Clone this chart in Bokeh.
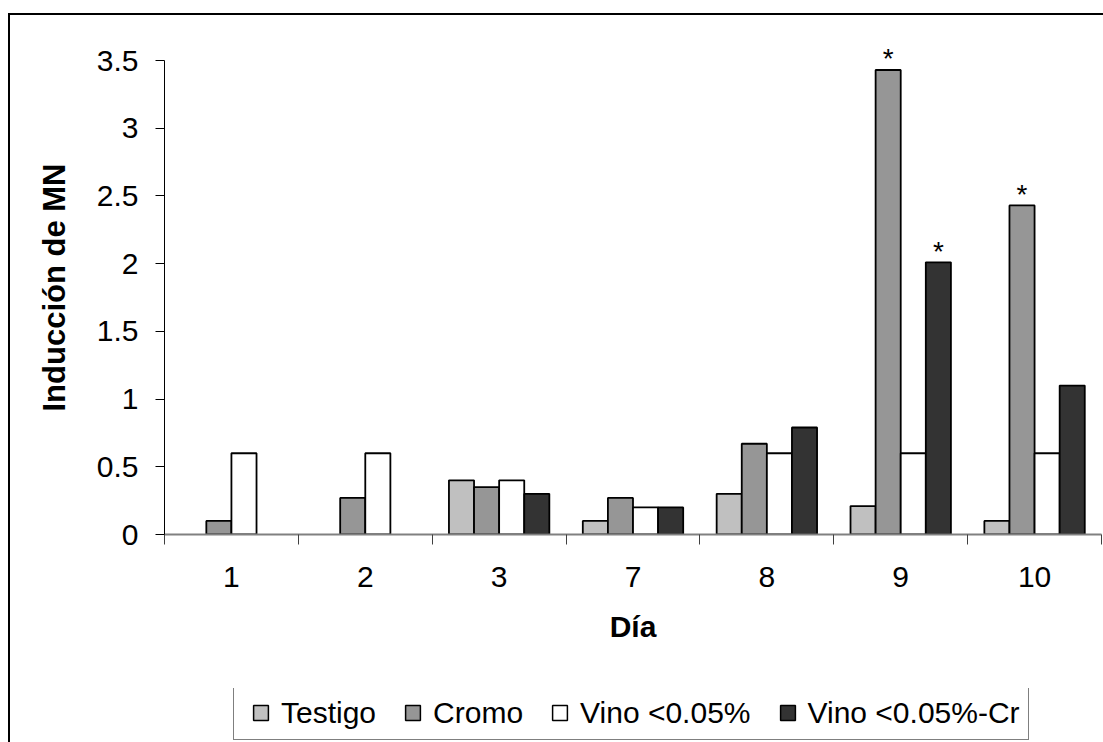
from bokeh.plotting import figure
from bokeh.layouts import column
from bokeh.models import (Range1d, FixedTicker, NumeralTickFormatter, Legend, LegendItem,
                          ColumnDataSource)
from bokeh.embed import file_html
from bokeh.resources import INLINE

# ---- data ----
categories = ["1", "2", "3", "7", "8", "9", "10"]
series_names = ["Testigo", "Cromo", "Vino <0.05%", "Vino <0.05%-Cr"]
testigo = [None, None, 0.40, 0.10, 0.30, 0.21, 0.10]
cromo = [0.10, 0.27, 0.35, 0.27, 0.67, 3.43, 2.43]
vino = [0.60, 0.60, 0.40, 0.20, 0.60, 0.60, 0.60]
vino_cr = [None, None, 0.30, 0.20, 0.79, 2.01, 1.10]
sig_cromo = ["", "", "", "", "", "*", "*"]
sig_vino_cr = ["", "", "", "", "", "*", ""]
y_ticks = [0, 0.5, 1, 1.5, 2, 2.5, 3, 3.5]
y_max = 3.5

colors = ["#C0C0C0", "#969696", "#FFFFFF", "#333333"]
FONT = "Liberation Sans"

BORDER_TOP_LEFT = {
    "background-color": "white",
    "background-image": "linear-gradient(#000, #000), linear-gradient(#000, #000)",
    "background-size": "2px 100%, 100% 2px",
    "background-position": "8px 13px, 8px 13px",
    "background-repeat": "no-repeat",
}
BORDER_LEFT = {
    "background-color": "white",
    "background-image": "linear-gradient(#000, #000)",
    "background-size": "2px 100%",
    "background-position": "8px 0px",
    "background-repeat": "no-repeat",
}

# ---- main chart ----
# frame spans 40..534 px; the 0..3.5 axis occupies 60..534, headroom above keeps the stars visible
px_per_unit = 474 / y_max
p = figure(width=1103, height=688, x_range=Range1d(0, len(categories)),
           y_range=Range1d(0, y_max + 20 / px_per_unit),
           output_backend="svg", toolbar_location=None,
           min_border_left=164, min_border_right=2, min_border_top=40, min_border_bottom=154)
p.outline_line_color = None
p.xgrid.visible = False
p.ygrid.visible = False
p.background_fill_color = "white"
p.border_fill_color = None
p.styles = BORDER_TOP_LEFT

bw = 0.1875
offsets = [-1.5 * bw, -0.5 * bw, 0.5 * bw, 1.5 * bw]
all_series = [testigo, cromo, vino, vino_cr]
for vals, off, col in zip(all_series, offsets, colors):
    xs = [i + 0.5 + off for i in range(len(categories))]
    tops = [float("nan") if v is None else v for v in vals]
    src = ColumnDataSource(dict(x=xs, top=tops))
    p.vbar(x="x", top="top", bottom=0, width=bw, source=src, fill_color=col,
           line_color="black", line_width=1.8)

# significance stars
for vals, sig, off in [(cromo, sig_cromo, offsets[1]), (vino_cr, sig_vino_cr, offsets[3])]:
    xs, ys, ts = [], [], []
    for i, (v, s) in enumerate(zip(vals, sig)):
        if s:
            xs.append(i + 0.5 + off)
            ys.append(v)
            ts.append(s)
    p.text(x=xs, y=ys, text=ts, text_align="center", text_baseline="alphabetic",
           y_offset=-11, text_font_size="28px", text_font={"value": FONT}, text_color="black")

# y axis
yax = p.yaxis[0]
yax.ticker = FixedTicker(ticks=y_ticks)
yax.bounds = (0, y_max)
yax.formatter = NumeralTickFormatter(format="0.[0]")
yax.major_tick_out = 9
yax.major_tick_in = 0
yax.minor_tick_line_color = None
yax.axis_line_color = "black"
yax.axis_line_width = 1
yax.major_tick_line_color = "black"
yax.major_label_text_font = FONT
yax.major_label_text_font_size = "30px"
yax.major_label_text_color = "black"
yax.major_label_standoff = 17
yax.axis_label = "Inducción de MN"
yax.axis_label_text_font = FONT
yax.axis_label_text_font_size = "31px"
yax.axis_label_text_font_style = "bold"
yax.axis_label_text_color = "black"
yax.axis_label_standoff = 22

# x axis
xax = p.xaxis[0]
xax.ticker = FixedTicker(ticks=[i + 0.5 for i in range(len(categories))],
                         minor_ticks=list(range(len(categories) + 1)))
xax.major_label_overrides = {i + 0.5: c for i, c in enumerate(categories)}
xax.major_tick_line_color = None
xax.minor_tick_out = 10
xax.minor_tick_in = 0
xax.minor_tick_line_color = "#404040"
xax.axis_line_color = "#808080"
xax.axis_line_width = 2
xax.major_label_text_font = FONT
xax.major_label_text_font_size = "30px"
xax.major_label_text_color = "black"
xax.major_label_standoff = 22
xax.axis_label = "Día"
xax.axis_label_text_font = FONT
xax.axis_label_text_font_size = "30px"
xax.axis_label_text_font_style = "bold"
xax.axis_label_text_color = "black"
xax.axis_label_standoff = 20

# ---- legend strip ----
q = figure(width=1103, height=54, x_range=Range1d(0, 1), y_range=Range1d(0, 1),
           output_backend="svg", toolbar_location=None,
           x_axis_location=None, y_axis_location=None,
           min_border_left=164, min_border_right=2, min_border_top=0, min_border_bottom=0)
q.outline_line_color = None
q.xgrid.visible = False
q.ygrid.visible = False
q.background_fill_color = None
q.border_fill_color = None
q.styles = BORDER_LEFT

# legend swatches only (no data points drawn in the strip)
nan = float("nan")
legend_renderers = [q.scatter(x=[nan], y=[nan], marker="square", size=15, fill_color=c,
                              line_color="black", line_width=1.5) for c in colors]
legend = Legend(items=[LegendItem(label=n, renderers=[r]) for n, r in zip(series_names, legend_renderers)],
                orientation="horizontal", location=(69, 2), margin=0, padding=8,
                spacing=18, label_standoff=2, glyph_width=37, glyph_height=37,
                label_text_font=FONT, label_text_font_size="30px", label_text_color="black",
                border_line_color="black", border_line_width=1, background_fill_color="white",
                background_fill_alpha=1.0)
q.add_layout(legend)

layout = column(p, q, spacing=0)
open("out.html", "w").write(file_html(layout, INLINE))
